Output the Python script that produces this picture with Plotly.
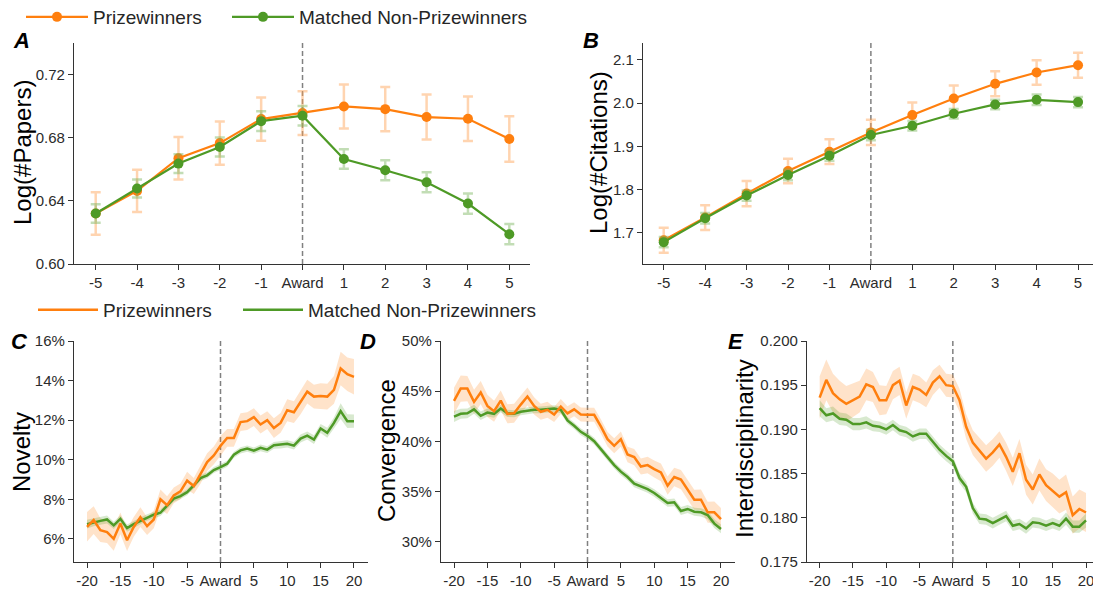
import plotly.graph_objects as go

# ---------------- data ----------------
years_ab = [-5, -4, -3, -2, -1, 0, 1, 2, 3, 4, 5]
tick_ab = ["-5", "-4", "-3", "-2", "-1", "Award", "1", "2", "3", "4", "5"]

a_prize = [0.632, 0.6463, 0.667, 0.6766, 0.6918, 0.6956, 0.6998, 0.6981, 0.6931, 0.692, 0.6792]
a_prize_err = [0.0134, 0.0134, 0.0135, 0.0137, 0.0137, 0.0139, 0.0139, 0.014, 0.0142, 0.0141, 0.0144]
a_match = [0.632, 0.6478, 0.6636, 0.6741, 0.6905, 0.6939, 0.6665, 0.6594, 0.6518, 0.6383, 0.6189]
a_match_err = [0.0058, 0.0057, 0.006, 0.006, 0.0062, 0.0062, 0.0062, 0.0063, 0.0063, 0.0064, 0.0064]

b_prize = [1.683, 1.7354, 1.7908, 1.8431, 1.8877, 1.9323, 1.9723, 2.0108, 2.0446, 2.0708, 2.0877]
b_prize_err = [0.029, 0.0285, 0.029, 0.0285, 0.0285, 0.029, 0.029, 0.03, 0.029, 0.0285, 0.029]
b_match = [1.6785, 1.7338, 1.7862, 1.8338, 1.8785, 1.9262, 1.9477, 1.9754, 1.9969, 2.0077, 2.0023]
b_match_err = [0.012, 0.012, 0.012, 0.012, 0.012, 0.012, 0.011, 0.011, 0.011, 0.012, 0.012]

years_cde = list(range(-20, 21))
tickvals_cde = [-20, -15, -10, -5, 0, 5, 10, 15, 20]
ticktext_cde = ["-20", "-15", "-10", "-5", "Award", "5", "10", "15", "20"]

c_ticks = [6, 8, 10, 12, 14, 16]
d_ticks = [30, 35, 40, 45, 50]
e_ticks = [0.175, 0.180, 0.185, 0.190, 0.195, 0.200]

c_prize = [6.61, 6.95, 6.44, 6.34, 6.0, 6.78, 5.93, 6.6, 7.1, 6.64, 6.98,
           8.0, 7.7, 8.2, 8.4, 8.94, 8.67, 9.24, 9.88, 10.22, 10.7,
           11.1, 11.1, 11.9, 11.95, 12.15, 11.78, 12.0, 11.6, 11.86, 12.5,
           12.4, 12.9, 13.44, 13.19, 13.22, 13.19, 13.53, 14.61, 14.32, 14.19]
c_prize_ci = [0.75, 0.7, 0.6, 0.55, 0.6, 0.55, 0.55, 0.5, 0.5, 0.45, 0.45,
              0.5, 0.45, 0.4, 0.4, 0.45, 0.4, 0.45, 0.45, 0.45, 0.5,
              0.45, 0.45, 0.45, 0.45, 0.45, 0.45, 0.45, 0.5, 0.5, 0.55,
              0.55, 0.6, 0.6, 0.6, 0.65, 0.65, 0.7, 0.85, 0.85, 0.9]
c_match = [6.74, 6.84, 6.91, 6.98, 6.68, 7.01, 6.54, 6.74, 6.91, 7.08, 7.22,
           7.32, 7.65, 8.03, 8.16, 8.36, 8.7, 9.07, 9.21, 9.48, 9.63,
           9.8, 10.25, 10.47, 10.56, 10.46, 10.6, 10.51, 10.73, 10.75, 10.8,
           10.71, 11.07, 11.22, 11.02, 11.58, 11.36, 11.86, 12.46, 11.95, 11.95]
c_match_ci = [0.22, 0.2, 0.2, 0.2, 0.18, 0.18, 0.18, 0.17, 0.17, 0.16, 0.16,
              0.16, 0.15, 0.15, 0.15, 0.15, 0.15, 0.15, 0.15, 0.15, 0.15,
              0.15, 0.15, 0.16, 0.16, 0.16, 0.17, 0.17, 0.17, 0.18, 0.18,
              0.19, 0.2, 0.2, 0.22, 0.23, 0.25, 0.27, 0.4, 0.35, 0.33]

d_prize = [44.04, 45.26, 45.26, 43.94, 44.87, 43.54, 43.01, 44.07, 42.75, 42.8, 43.67,
           44.47, 43.54, 42.95, 43.15, 42.68, 43.48, 42.8, 43.2, 42.68, 42.65,
           42.65, 41.5, 40.23, 39.57, 40.23, 38.7, 38.44, 37.5, 37.65, 37.25,
           36.92, 35.6, 36.46, 36.2, 35.2, 34.2, 34.2, 32.95, 32.95, 32.28]
d_prize_ci = [1.3, 1.3, 1.25, 1.2, 1.15, 1.1, 1.05, 1.0, 0.95, 0.95, 0.9,
              0.9, 0.85, 0.8, 0.8, 0.75, 0.75, 0.7, 0.7, 0.7, 0.7,
              0.7, 0.7, 0.72, 0.75, 0.75, 0.78, 0.8, 0.8, 0.82, 0.85,
              0.88, 0.9, 0.92, 0.95, 0.98, 1.0, 1.02, 1.05, 1.08, 1.1]
d_match = [42.48, 42.75, 42.8, 43.2, 42.55, 42.88, 42.75, 43.28, 42.8, 42.75, 42.95,
           43.08, 43.15, 43.15, 43.2, 43.28, 43.15, 42.09, 41.56, 40.96, 40.56,
           40.03, 39.24, 38.44, 37.65, 36.99, 36.46, 35.79, 35.53, 35.26, 34.87,
           34.34, 33.87, 33.94, 33.08, 33.28, 33.01, 32.95, 32.68, 31.82, 31.29]
d_match_ci = [0.55, 0.5, 0.48, 0.45, 0.42, 0.4, 0.4, 0.38, 0.36, 0.35, 0.35,
              0.34, 0.33, 0.33, 0.33, 0.33, 0.33, 0.33, 0.33, 0.33, 0.33,
              0.33, 0.33, 0.34, 0.34, 0.35, 0.35, 0.35, 0.36, 0.36, 0.37,
              0.37, 0.38, 0.38, 0.39, 0.4, 0.4, 0.41, 0.42, 0.43, 0.44]

e_prize = [0.1936, 0.1956, 0.1941, 0.1934, 0.1929, 0.1933, 0.1937, 0.1951, 0.1948, 0.1933, 0.1933,
           0.1950, 0.1955, 0.1927, 0.1948, 0.1945, 0.1939, 0.1953, 0.1960, 0.1950, 0.1949,
           0.1933, 0.1903, 0.1885, 0.1876, 0.1867, 0.1874, 0.1883, 0.1869, 0.1852, 0.1873,
           0.1843, 0.1832, 0.1849, 0.1837, 0.1831, 0.1824, 0.1829, 0.1803, 0.1810, 0.1806]
e_prize_ci = [0.0024, 0.0023, 0.0022, 0.0021, 0.002, 0.0019, 0.0018, 0.0018, 0.0017, 0.0017, 0.0016,
              0.0016, 0.0016, 0.0015, 0.0015, 0.0015, 0.0014, 0.0014, 0.0013, 0.0013, 0.0013,
              0.0013, 0.0014, 0.0014, 0.0014, 0.0015, 0.0015, 0.0015, 0.0016, 0.0016, 0.0016,
              0.0017, 0.0017, 0.0018, 0.0018, 0.0019, 0.0019, 0.002, 0.0021, 0.0022, 0.0022]
e_match = [0.1924, 0.1916, 0.1918, 0.1912, 0.1911, 0.1906, 0.1906, 0.1908, 0.1904, 0.1903, 0.1900,
           0.1905, 0.1899, 0.1897, 0.1892, 0.1895, 0.1895, 0.1886, 0.1877, 0.1870, 0.1864,
           0.1845, 0.1835, 0.1811, 0.1799, 0.1798, 0.1794, 0.1798, 0.1802, 0.1791, 0.1793,
           0.1788, 0.1795, 0.1794, 0.1791, 0.1794, 0.1791, 0.1799, 0.1790, 0.1790, 0.1797]
e_match_ci = [0.0009, 0.0008, 0.0008, 0.0007, 0.0007, 0.0007, 0.0007, 0.0007, 0.0006, 0.0006, 0.0006,
              0.0006, 0.0006, 0.0006, 0.0006, 0.0006, 0.0006, 0.0006, 0.0006, 0.0006, 0.0006,
              0.0006, 0.0006, 0.0006, 0.0006, 0.0006, 0.0006, 0.0006, 0.0006, 0.0006, 0.0006,
              0.0006, 0.0006, 0.0006, 0.0006, 0.0006, 0.0006, 0.0007, 0.0007, 0.0007, 0.0008]

# ---------------- styles ----------------
ORANGE = "#ff7f0e"
GREEN = "#4e9a26"
ORANGE_BAND = "rgba(255,127,14,0.22)"
GREEN_BAND = "rgba(78,154,38,0.22)"
ORANGE_ERR = "rgba(255,160,80,0.45)"
GREEN_ERR = "rgba(120,180,90,0.45)"
FONT = "Liberation Sans, Arial, sans-serif"
AXC = "#333333"

# the page body adds an 8px offset; figure is sized so it ends at the window edge
OFF = 8
W, H = 1101 - OFF, 592 - OFF


def px_x(p):
    return (p - OFF) / W


def px_y(p):
    return (592 - p) / H


fig = go.Figure()

# ---------- top row (A, B) ----------
top_specs = [
    ("x", "y", a_prize, a_prize_err, a_match, a_match_err, True),
    ("x2", "y2", b_prize, b_prize_err, b_match, b_match_err, False),
]
for xa, ya, pv, pe, mv, me, leg in top_specs:
    fig.add_trace(go.Scatter(
        x=years_ab, y=pv, mode="lines+markers", name="Prizewinners",
        line=dict(color=ORANGE, width=2.2), marker=dict(color=ORANGE, size=10),
        error_y=dict(type="data", array=pe, color=ORANGE_ERR, thickness=2.5, width=5),
        xaxis=xa, yaxis=ya, showlegend=leg, legend="legend"))
    fig.add_trace(go.Scatter(
        x=years_ab, y=mv, mode="lines+markers", name="Matched Non-Prizewinners",
        line=dict(color=GREEN, width=2.2), marker=dict(color=GREEN, size=10),
        error_y=dict(type="data", array=me, color=GREEN_ERR, thickness=2.5, width=5),
        xaxis=xa, yaxis=ya, showlegend=leg, legend="legend3"))

# ---------- bottom row (C, D, E) ----------
bottom_specs = [
    ("x3", "y3", c_prize, c_prize_ci, c_match, c_match_ci, True),
    ("x4", "y4", d_prize, d_prize_ci, d_match, d_match_ci, False),
    ("x5", "y5", e_prize, e_prize_ci, e_match, e_match_ci, False),
]
for xa, ya, pv, pc, mv, mc, leg in bottom_specs:
    for vals, ci, band in ((pv, pc, ORANGE_BAND), (mv, mc, GREEN_BAND)):
        upper = [v + c for v, c in zip(vals, ci)]
        lower = [v - c for v, c in zip(vals, ci)]
        fig.add_trace(go.Scatter(x=years_cde, y=upper, mode="lines", line=dict(width=0),
                                 hoverinfo="skip", showlegend=False, xaxis=xa, yaxis=ya))
        fig.add_trace(go.Scatter(x=years_cde, y=lower, mode="lines", line=dict(width=0),
                                 fill="tonexty", fillcolor=band, hoverinfo="skip",
                                 showlegend=False, xaxis=xa, yaxis=ya))
    fig.add_trace(go.Scatter(
        x=years_cde, y=mv, mode="lines", name="Matched Non-Prizewinners",
        line=dict(color=GREEN, width=2.5), xaxis=xa, yaxis=ya,
        showlegend=leg, legend="legend4"))
    fig.add_trace(go.Scatter(
        x=years_cde, y=pv, mode="lines", name="Prizewinners",
        line=dict(color=ORANGE, width=2.5), xaxis=xa, yaxis=ya,
        showlegend=leg, legend="legend2"))

# ---------- axes ----------
common = dict(showline=True, linecolor=AXC, linewidth=1.2, ticks="outside", ticklen=5,
              tickwidth=1.2, tickcolor=AXC, showgrid=False, zeroline=False, automargin=False,
              tickfont=dict(family=FONT, size=15, color="#2b2b2b"))

top_y = [px_y(264), px_y(43)]
bot_y = [px_y(562), px_y(341)]

layout_axes = dict(
    xaxis=dict(domain=[px_x(74), px_x(530)], range=[-5.525, 5.5], tickvals=years_ab,
               ticktext=tick_ab, anchor="y", **common),
    yaxis=dict(domain=top_y, range=[0.60, 0.74], tickvals=[0.60, 0.64, 0.68, 0.72],
               tickformat=".2f", anchor="x", **common),
    xaxis2=dict(domain=[px_x(643), px_x(1100)], range=[-5.5, 5.53], tickvals=years_ab,
                ticktext=tick_ab, anchor="y2", **common),
    yaxis2=dict(domain=top_y, range=[1.628, 2.139], tickvals=[1.7, 1.8, 1.9, 2.0, 2.1],
                tickformat=".1f", anchor="x2", **common),
    xaxis3=dict(domain=[px_x(74), px_x(368)], range=[-21.95, 22.1], tickvals=tickvals_cde,
                ticktext=ticktext_cde, anchor="y3", **common),
    yaxis3=dict(domain=bot_y, range=[4.83, 16.0], tickvals=c_ticks,
                ticktext=["%d%%" % v for v in c_ticks], anchor="x3", **common),
    xaxis4=dict(domain=[px_x(441), px_x(735)], range=[-21.95, 22.1], tickvals=tickvals_cde,
                ticktext=ticktext_cde, anchor="y4", **common),
    yaxis4=dict(domain=bot_y, range=[28.0, 50.0], tickvals=d_ticks,
                ticktext=["%d%%" % v for v in d_ticks], anchor="x4", **common),
    xaxis5=dict(domain=[px_x(807), px_x(1100)], range=[-21.9, 22.1], tickvals=tickvals_cde,
                ticktext=ticktext_cde, anchor="y5", **common),
    yaxis5=dict(domain=bot_y, range=[0.175, 0.200], tickvals=e_ticks,
                ticktext=["%.3f" % v for v in e_ticks], anchor="x5", **common),
)

# vertical award lines
for xa, ya in [("x", "y"), ("x2", "y2"), ("x3", "y3"), ("x4", "y4"), ("x5", "y5")]:
    fig.add_shape(type="line", xref=xa, yref=ya + " domain", x0=0, x1=0, y0=0, y1=1,
                  line=dict(color="#808080", width=1.5, dash="5px,3px"), layer="below")

# panel letters and y titles
annotations = []
letters = [("A", 21, 40), ("B", 591, 40), ("C", 19, 341), ("D", 368, 341), ("E", 736, 341)]
for t, x, y in letters:
    annotations.append(dict(text="<b><i>%s</i></b>" % t, x=px_x(x), y=px_y(y), xref="paper",
                            yref="paper", showarrow=False, xanchor="center", yanchor="middle",
                            font=dict(family=FONT, size=22, color="black")))
titles = [("Log(#Papers)", 22, 153), ("Log(#Citations)", 598, 153), ("Novelty", 21, 452),
          ("Convergence", 386, 451), ("Interdisciplinarity", 744, 449)]
for t, x, y in titles:
    annotations.append(dict(text=t, x=px_x(x), y=px_y(y), xref="paper", yref="paper",
                            showarrow=False, textangle=-90, xanchor="center", yanchor="middle",
                            font=dict(family=FONT, size=24, color="black")))

leg_font = dict(family=FONT, size=19, color="#262626")
leg_top = dict(orientation="h", xanchor="left", yanchor="middle", itemwidth=62,
               font=leg_font, bgcolor="rgba(0,0,0,0)")
leg_bot = dict(orientation="h", xanchor="left", yanchor="middle", itemwidth=60,
               font=leg_font, bgcolor="rgba(0,0,0,0)")

fig.update_layout(
    width=W, height=H, margin=dict(l=0, r=0, t=0, b=0, autoexpand=False),
    paper_bgcolor="white", plot_bgcolor="white",
    font=dict(family=FONT, color="#262626"),
    annotations=annotations,
    legend=dict(x=px_x(21), y=px_y(17), **leg_top),
    legend3=dict(x=px_x(227), y=px_y(17), **leg_top),
    legend2=dict(x=px_x(33), y=px_y(310), **leg_bot),
    legend4=dict(x=px_x(238), y=px_y(310), **leg_bot),
    **layout_axes,
)

fig.write_html("out.html")
